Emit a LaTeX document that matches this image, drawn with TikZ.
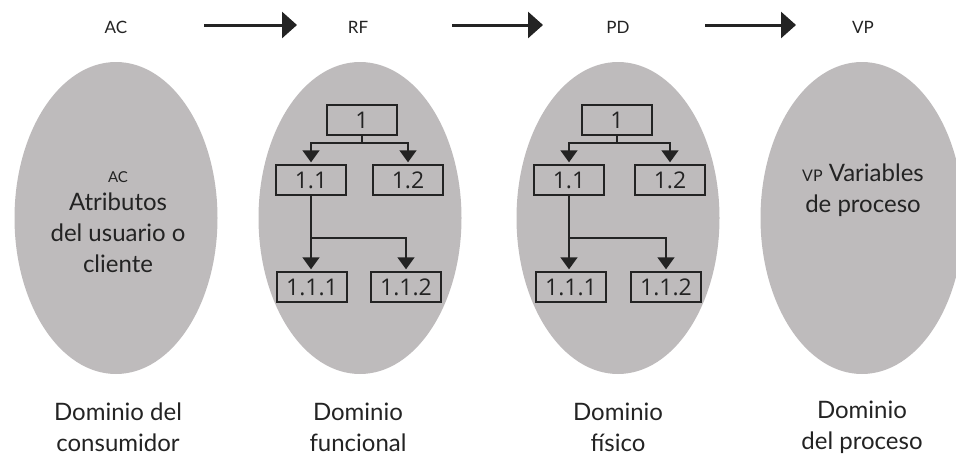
\documentclass[tikz,border=0pt]{standalone}
\usepackage{fontspec}
\setmainfont{Lato}
\newfontfamily\boxfont{Open Sans}
\usetikzlibrary{arrows.meta,shapes.geometric}
\definecolor{domaingray}{RGB}{190,187,188}
\definecolor{ink}{RGB}{35,35,35}
\begin{document}
\begin{tikzpicture}[x=1pt,y=-1pt,
  domainshape/.style={ellipse,fill=domaingray,minimum width=203pt,minimum height=312pt,inner sep=0pt},
  toplabel/.style={text=ink,font=\fontsize{17}{20}\selectfont},
  bigtext/.style={text=ink,align=center,font=\fontsize{24}{31}\selectfont},
  itembox/.style={draw=ink,line width=1.4pt,minimum width=70pt,minimum height=30pt,inner sep=0pt,
    text=ink,font=\boxfont\fontsize{23}{23}\selectfont},
  flow/.style={line width=3pt,draw=ink,-{Triangle[width=26pt,length=15pt]}},
  branch/.style={line width=1.5pt,draw=ink,-{Triangle[width=17pt,length=12pt]},shorten >=2pt},
  stem/.style={line width=1.5pt,draw=ink}]
\useasboundingbox (0,0) rectangle (956,459);

% the four domains
\node[domainshape] (e1) at (116,218) {};
\node[domainshape] (e2) at (360,218) {};
\node[domainshape] (e3) at (618,218) {};
\node[domainshape] (e4) at (862,218) {};

% labels and arrows along the top
\node[toplabel] (ac) at (116,27) {AC};
\node[toplabel] (rf) at (358,27) {RF};
\node[toplabel] (pd) at (618,27) {PD};
\node[toplabel] (vp) at (863,27) {VP};
\coordinate (f1s) at (204,25); \coordinate (f1e) at (297,25);
\coordinate (f2s) at (452,25); \coordinate (f2e) at (543,25);
\coordinate (f3s) at (705,25); \coordinate (f3e) at (796,25);
\draw[flow] (f1s) -- (f1e);
\draw[flow] (f2s) -- (f2e);
\draw[flow] (f3s) -- (f3e);

% consumer domain
\node[bigtext] (t1) at (118,222) {{\fontsize{15}{16}\selectfont AC}\\[-3pt]Atributos\\del usuario o\\cliente};

% process domain
\node[bigtext] (t4) at (863,190) {{\fontsize{16}{16}\selectfont VP} Variables\\de proceso};

% functional domain tree
\node[itembox] (a1) at (362,120) {1};
\node[itembox] (a11) at (311,180) {1.1};
\node[itembox] (a12) at (408,180) {1.2};
\node[itembox] (a111) at (312,287) {1.1.1};
\node[itembox] (a112) at (406,287) {1.1.2};
\coordinate (aj) at (362,143);
\draw[stem] (a1.south) -- (aj);
\draw[branch] (aj) -| (a11.north);
\draw[branch] (aj) -| (a12.north);
\draw[branch] (a11.south) -- (a11.south |- a111.north);
\draw[branch] (a11.south |- 0,238) -| (a112.north);

% physical domain tree
\node[itembox] (b1) at (617,120) {1};
\node[itembox] (b11) at (569,180) {1.1};
\node[itembox] (b12) at (670,180) {1.2};
\node[itembox] (b111) at (571,287) {1.1.1};
\node[itembox] (b112) at (666,287) {1.1.2};
\coordinate (bj) at (617,143);
\draw[stem] (b1.south) -- (bj);
\draw[branch] (bj) -| (b11.north);
\draw[branch] (bj) -| (b12.north);
\draw[branch] (b11.south) -- (b11.south |- b111.north);
\draw[branch] (b11.south |- 0,238) -| (b112.north);

% domain names
\node[bigtext] (d1) at (118,427) {Dominio del\\consumidor};
\node[bigtext] (d2) at (358,427) {Dominio\\funcional};
\node[bigtext] (d3) at (618,427) {Dominio\\físico};
\node[bigtext] (d4) at (862,427) {Dominio\\del proceso};
\end{tikzpicture}
\end{document}
